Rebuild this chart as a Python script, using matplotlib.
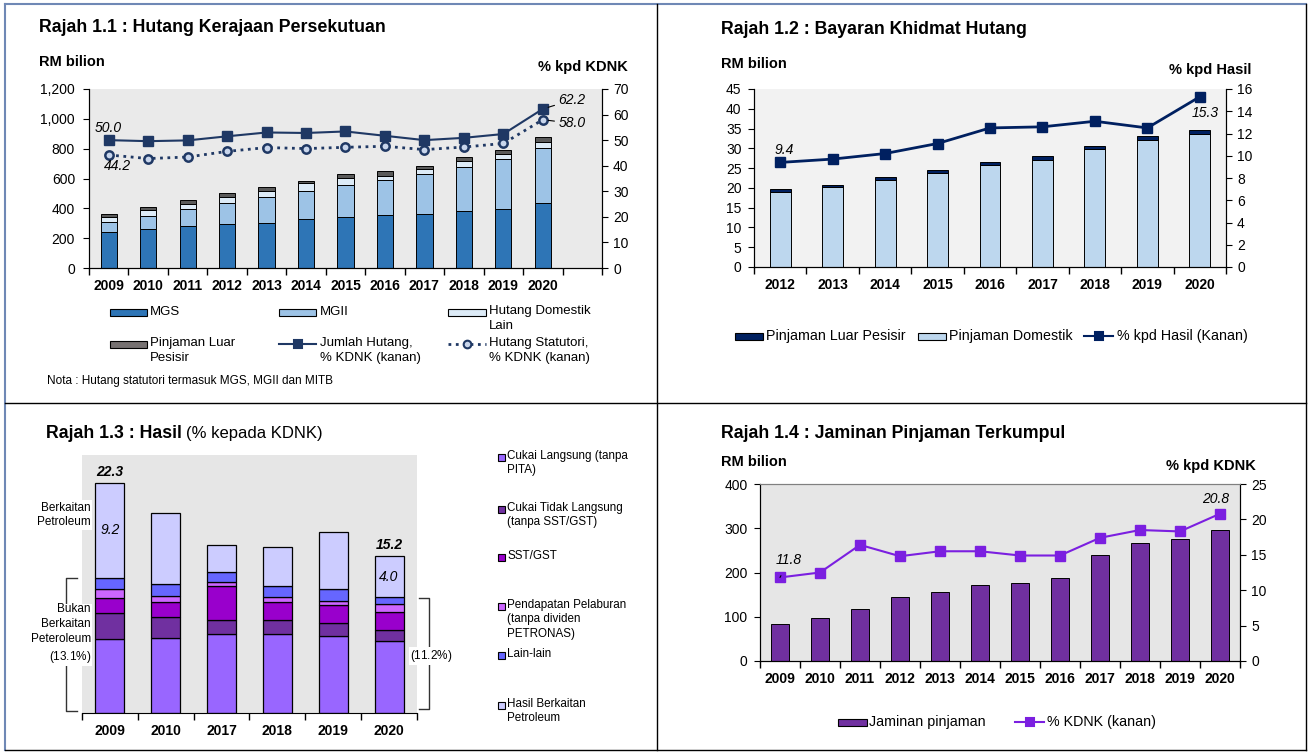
import matplotlib
matplotlib.use("Agg")
import matplotlib.pyplot as plt
from matplotlib.patches import Rectangle
from matplotlib.lines import Line2D
import numpy as np

plt.rcParams["font.family"] = ["Liberation Sans", "DejaVu Sans"]
plt.rcParams["mathtext.fontset"] = "custom"
plt.rcParams["mathtext.it"] = "Liberation Sans:italic"
plt.rcParams["mathtext.rm"] = "Liberation Sans"

# ---- Rajah 1.1 : Hutang Kerajaan Persekutuan (RM bilion, % KDNK)
years_debt = ["2009", "2010", "2011", "2012", "2013", "2014",
              "2015", "2016", "2017", "2018", "2019", "2020"]
mgs = [242, 261, 280, 293, 305, 331, 340, 358, 364, 380, 393, 436]
mgii = [69, 89, 113, 143, 173, 184, 214, 232, 266, 300, 335, 370]
hdl = [33, 36, 37, 42, 40, 52, 52, 30, 34, 38, 34, 40]
plp = [18, 21, 26, 24, 22, 17, 25, 28, 23, 23, 31, 34]
debt_gdp = [50.0, 49.6, 49.9, 51.5, 53.0, 52.8, 53.4, 51.7, 50.0, 50.9, 52.4, 62.2]
statutory_gdp = [44.2, 42.8, 43.4, 45.6, 47.1, 46.7, 47.2, 47.6, 46.3, 47.3, 48.7, 58.0]
debt_yticks = [0, 200, 400, 600, 800, 1000, 1200]
debt_ylabels = ["0", "200", "400", "600", "800", "1,000", "1,200"]

# ---- Rajah 1.2 : Bayaran Khidmat Hutang
years_svc = ["2012", "2013", "2014", "2015", "2016", "2017", "2018", "2019", "2020"]
svc_domestic = [19.0, 20.1, 22.0, 23.7, 25.7, 27.1, 29.8, 32.1, 33.7]
svc_offshore = [0.6, 0.7, 0.7, 0.8, 0.9, 0.9, 0.9, 1.0, 0.9]
svc_revenue = [9.4, 9.7, 10.2, 11.1, 12.5, 12.6, 13.1, 12.5, 15.3]

# ---- Rajah 1.3 : Hasil (% kepada KDNK)
years_rev = ["2009", "2010", "2017", "2018", "2019", "2020"]
rev_direct = [7.2, 7.3, 7.7, 7.7, 7.5, 7.0]
rev_indirect = [2.5, 2.0, 1.3, 1.3, 1.2, 1.0]
rev_sst = [1.4, 1.5, 3.3, 1.8, 1.8, 1.8]
rev_invest = [0.9, 0.5, 0.4, 0.4, 0.4, 0.8]
rev_other = [1.1, 1.2, 1.0, 1.1, 1.1, 0.6]
rev_petro = [9.2, 6.9, 2.6, 3.8, 5.5, 4.0]
rev_names = ["Cukai Langsung (tanpa\nPITA)", "Cukai Tidak Langsung\n(tanpa SST/GST)", "SST/GST",
             "Pendapatan Pelaburan\n(tanpa dividen\nPETRONAS)", "Lain-lain", "Hasil Berkaitan\nPetroleum"]

# ---- Rajah 1.4 : Jaminan Pinjaman Terkumpul
years_guar = years_debt
guarantees = [84, 97, 117, 144, 157, 172, 176, 188, 239, 267, 276, 296]
guar_gdp = [11.8, 12.5, 16.4, 14.8, 15.5, 15.5, 14.9, 14.9, 17.4, 18.5, 18.3, 20.8]

W, H = 1310, 753
fig = plt.figure(figsize=(W / 100, H / 100), dpi=100)


def fx(x):
    return x / W


def fy(y):
    return 1 - y / H


def box(l, t, r, b):
    return [fx(l), fy(b), (r - l) / W, (b - t) / H]


def ftext(x, y, s, **kw):
    return fig.text(fx(x), fy(y), s, **kw)


def fline(xs, ys, **kw):
    fig.add_artist(Line2D([fx(v) for v in xs], [fy(v) for v in ys], transform=fig.transFigure, **kw))


def lg_patch(x0, y, w, h, color, lw=0.8):
    fig.add_artist(Rectangle((fx(x0), fy(y + h / 2)), w / W, h / H, transform=fig.transFigure,
                             facecolor=color, edgecolor="black", lw=lw))


def lg_line(x0, x1, y, color, ls="-", marker="s", ms=6, mfc=None, lw=1.5):
    fline([x0, x1], [y, y], color=color, ls=ls, lw=lw)
    fig.add_artist(Line2D([fx((x0 + x1) / 2)], [fy(y)], transform=fig.transFigure, marker=marker,
                          ms=ms, color=color, mfc=mfc or color, mec=color, mew=1.5, ls="none"))


# ---- panel frames
outer = "#6F88B5"
fline([5, 1306], [4, 4], color=outer, lw=1.5)
fline([5, 5], [4, 750], color=outer, lw=1.5)
fline([1306, 1306], [4, 750], color="black", lw=1)
fline([5, 1306], [750, 750], color="black", lw=1)
fline([657, 657], [4, 750], color="black", lw=1)
fline([5, 1306], [403, 403], color="black", lw=1)

TITLE = 12.8
HEAD = 10.5


def style_cat_axis(ax, n, labels):
    ax.set_xlim(-0.5, n - 0.5)
    ax.set_xticks(np.arange(len(labels)))
    ax.set_xticklabels(labels, fontweight="bold", fontsize=10)
    ax.set_xticks(np.arange(-0.5, n, 1), minor=True)
    ax.tick_params(axis="x", which="major", length=0, pad=8)
    ax.tick_params(axis="x", which="minor", length=5, direction="out", width=1)
    ax.spines["top"].set_visible(False)


# =============== Rajah 1.1
ftext(39, 28, "Rajah 1.1 : Hutang Kerajaan Persekutuan", fontsize=TITLE, fontweight="bold", va="center")
ftext(39, 62, "RM bilion", fontsize=HEAD, fontweight="bold", va="center")
ftext(628, 67, "% kpd KDNK", fontsize=HEAD, fontweight="bold", va="center", ha="right")

ax1 = fig.add_axes(box(89, 89, 602, 268))
ax1.set_facecolor("#EAEAEA")
x1 = np.arange(len(years_debt))
bottom = np.zeros(len(x1))
for vals, col in [(mgs, "#2E75B6"), (mgii, "#9DC3E6"), (hdl, "#DDEBF7"), (plp, "#5A5A5A")]:
    ax1.bar(x1, vals, 0.41, bottom=bottom, color=col, edgecolor="black", lw=0.7)
    bottom += np.array(vals)
ax1.set_ylim(0, 1200)
ax1.set_yticks(debt_yticks)
ax1.set_yticklabels(debt_ylabels, fontsize=10)
ax1.tick_params(axis="y", length=4, pad=6)
style_cat_axis(ax1, 13, years_debt)

ax1r = ax1.twinx()
ax1r.set_ylim(0, 70)
ax1r.set_yticks(range(0, 71, 10))
ax1r.tick_params(axis="y", length=4, pad=4, labelsize=10)
ax1r.spines["top"].set_visible(False)
navy = "#1F3864"
ax1r.plot(x1, debt_gdp, color=navy, lw=1.5, marker="s", ms=6.5)
ax1r.plot(x1, statutory_gdp, color=navy, lw=2, ls=":", marker="o", ms=6, mfc="#C9D6EC", mec=navy, mew=1.8)
ax1r.text(0, debt_gdp[0] + 4.8, f"{debt_gdp[0]:.1f}", ha="center", va="center", fontsize=10, style="italic")
ax1r.text(0.22, statutory_gdp[0] - 4.4, f"{statutory_gdp[0]:.1f}", ha="center", va="center", fontsize=10, style="italic")
ax1r.annotate(f"{debt_gdp[-1]:.1f}", xy=(11, debt_gdp[-1]), xytext=(11.4, 65.7), fontsize=10, style="italic",
              va="center", arrowprops=dict(arrowstyle="-", color="black", lw=0.8, shrinkA=1, shrinkB=4))
ax1r.annotate(f"{statutory_gdp[-1]:.1f}", xy=(11, statutory_gdp[-1]), xytext=(11.4, 56.6), fontsize=10,
              style="italic", va="center",
              arrowprops=dict(arrowstyle="-", color="black", lw=0.8, shrinkA=1, shrinkB=4))

# legend 1.1
lg_patch(110, 312, 37, 7, "#2E75B6")
ftext(150, 312, "MGS", fontsize=9.5, va="center")
lg_patch(279, 312, 37, 7, "#9DC3E6")
ftext(320, 312, "MGII", fontsize=9.5, va="center")
lg_patch(448, 312, 38, 7, "#DDEBF7")
ftext(489, 305, "Hutang Domestik\nLain", fontsize=9.5, va="top", linespacing=1.3)
lg_patch(110, 344, 37, 7, "#767171")
ftext(150, 337, "Pinjaman Luar\nPesisir", fontsize=9.5, va="top", linespacing=1.3)
lg_line(279, 316, 344, navy)
ftext(320, 337, "Jumlah Hutang,\n% KDNK (kanan)", fontsize=9.5, va="top", linespacing=1.3)
lg_line(448, 486, 344, navy, ls=":", marker="o", ms=5.5, mfc="#C9D6EC", lw=2)
ftext(489, 337, "Hutang Statutori,\n% KDNK (kanan)", fontsize=9.5, va="top", linespacing=1.3)
ftext(47, 381, "Nota : Hutang statutori termasuk MGS, MGII dan MITB", fontsize=8.5, va="center")

# =============== Rajah 1.2
ftext(721, 30, "Rajah 1.2 : Bayaran Khidmat Hutang", fontsize=TITLE, fontweight="bold", va="center")
ftext(721, 64, "RM bilion", fontsize=HEAD, fontweight="bold", va="center")
ftext(1251, 70, "% kpd Hasil", fontsize=HEAD, fontweight="bold", va="center", ha="right")

ax2 = fig.add_axes(box(754, 89, 1226, 267))
ax2.set_facecolor("#F2F2F2")
x2 = np.arange(len(years_svc))
ax2.bar(x2, svc_domestic, 0.4, color="#BDD7EE", edgecolor="black", lw=0.7)
ax2.bar(x2, svc_offshore, 0.4, bottom=svc_domestic, color="#002060", edgecolor="black", lw=0.7)
ax2.set_ylim(0, 45)
ax2.set_yticks(range(0, 46, 5))
ax2.tick_params(axis="y", length=4, pad=5, labelsize=10)
style_cat_axis(ax2, 9, years_svc)
ax2r = ax2.twinx()
ax2r.set_ylim(0, 16)
ax2r.set_yticks(range(0, 17, 2))
ax2r.tick_params(axis="y", length=4, pad=4, labelsize=10)
ax2r.spines["top"].set_visible(False)
ax2r.plot(x2, svc_revenue, color="#002060", lw=2, marker="s", ms=7)
ax2r.text(0.08, 10.5, f"{svc_revenue[0]:.1f}", ha="center", va="center", fontsize=10, style="italic")
ax2r.text(8.1, 13.8, f"{svc_revenue[-1]:.1f}", ha="center", va="center", fontsize=10, style="italic")

lg_patch(735, 336, 28, 7, "#002060")
ftext(766, 336, "Pinjaman Luar Pesisir", fontsize=10.3, va="center")
lg_patch(918, 336, 28, 7, "#BDD7EE")
ftext(949, 336, "Pinjaman Domestik", fontsize=10.3, va="center")
lg_line(1084, 1113, 336, "#002060", ms=6)
ftext(1117, 336, "% kpd Hasil (Kanan)", fontsize=10.3, va="center")

# =============== Rajah 1.3
t3 = ftext(46, 433, "Rajah 1.3 : Hasil", fontsize=TITLE, fontweight="bold", va="center")
fig.canvas.draw()
t3_end = t3.get_window_extent().x1
fig.text(t3_end / W + 4 / W, fy(433), "(% kepada KDNK)", fontsize=12, va="center")

ax3 = fig.add_axes(box(82, 455, 417, 713))
ax3.set_facecolor("#E6E6E6")
x3 = np.arange(len(years_rev))
rev_parts = [rev_direct, rev_indirect, rev_sst, rev_invest, rev_other, rev_petro]
rev_colors = ["#9966FF", "#7030A0", "#9900CC", "#CC66FF", "#6666FF", "#CCCCFF"]
bottom = np.zeros(len(x3))
for vals, col in zip(rev_parts, rev_colors):
    ax3.bar(x3, vals, 0.52, bottom=bottom, color=col, edgecolor="black", lw=0.9)
    bottom += np.array(vals)
totals = bottom
non_petro = totals - np.array(rev_petro)
ax3.set_ylim(0, 25)
ax3.set_yticks([])
style_cat_axis(ax3, 6, years_rev)
for s in ["left", "right"]:
    ax3.spines[s].set_visible(False)
for i in [0, 5]:
    ax3.annotate(f"{totals[i]:.1f}", xy=(i, totals[i]), xytext=(0, 3), textcoords="offset points",
                 ha="center", va="bottom", fontsize=10, fontweight="bold", style="italic")
    ax3.text(i, non_petro[i] + rev_petro[i] / 2, f"{rev_petro[i]:.1f}", ha="center", va="center",
             fontsize=10, style="italic")

wb = dict(facecolor="white", edgecolor="none", pad=1)
ftext(91, 515, "Berkaitan\nPetroleum", fontsize=8.5, ha="right", va="center", bbox=wb, linespacing=1.3)
ftext(91, 634, "Bukan\nBerkaitan\nPeteroleum\n(" + r"$\it{" + f"{non_petro[0]:.1f}" + r"\%}$" + ")",
      fontsize=8.5, ha="right", va="center", bbox=wb, linespacing=1.35)
fline([77, 66, 66, 77], [578, 578, 711, 711], color="#333333", lw=1)
fline([419, 429, 429, 419], [598, 598, 709, 709], color="#333333", lw=1)
ftext(410, 656, "(" + r"$\it{" + f"{non_petro[5]:.1f}" + r"\%}$" + ")", fontsize=8.5, va="center", bbox=wb)

leg_y = [457, 509, 557, 606, 655, 705]
for yy, name, col in zip(leg_y, rev_names, rev_colors):
    lg_patch(498, yy, 7, 7, col, lw=0.8)
    ftext(507, yy - 7, name, fontsize=8.4, va="top", linespacing=1.25)

# =============== Rajah 1.4
ftext(721, 433, "Rajah 1.4 : Jaminan Pinjaman Terkumpul", fontsize=TITLE, fontweight="bold", va="center")
ftext(721, 462, "RM bilion", fontsize=HEAD, fontweight="bold", va="center")
ftext(1256, 466, "% kpd KDNK", fontsize=HEAD, fontweight="bold", va="center", ha="right")

ax4 = fig.add_axes(box(760, 484, 1240, 661))
ax4.set_facecolor("#E6E6E6")
x4 = np.arange(len(years_guar))
ax4.bar(x4, guarantees, 0.43, color="#7030A0", edgecolor="black", lw=0.7)
ax4.set_ylim(0, 400)
ax4.set_yticks(range(0, 401, 100))
ax4.tick_params(axis="y", length=4, pad=5, labelsize=10)
style_cat_axis(ax4, 12, years_guar)
ax4.spines["top"].set_visible(True)
ax4.spines["top"].set_color("#808080")
ax4r = ax4.twinx()
ax4r.set_ylim(0, 25)
ax4r.set_yticks(range(0, 26, 5))
ax4r.tick_params(axis="y", length=4, pad=4, labelsize=10)
ax4r.spines["top"].set_color("#808080")
violet = "#7B1FE0"
ax4r.plot(x4, guar_gdp, color=violet, lw=1.5, marker="s", ms=7)
ax4r.annotate(f"{guar_gdp[0]:.1f}", xy=(0, guar_gdp[0]), xytext=(0.23, 14.3), fontsize=10, style="italic",
              ha="center", va="center",
              arrowprops=dict(arrowstyle="-", color="black", lw=0.8, shrinkA=5, shrinkB=2))
ax4r.text(10.9, 22.9, f"{guar_gdp[-1]:.1f}", ha="center", va="center", fontsize=10, style="italic")

lg_patch(838, 722, 29, 7, "#7030A0")
ftext(869, 722, "Jaminan pinjaman", fontsize=10.3, va="center")
lg_line(1015, 1044, 722, violet, ms=6)
ftext(1047, 722, "% KDNK (kanan)", fontsize=10.3, va="center")

fig.savefig("out.png", dpi=100)
